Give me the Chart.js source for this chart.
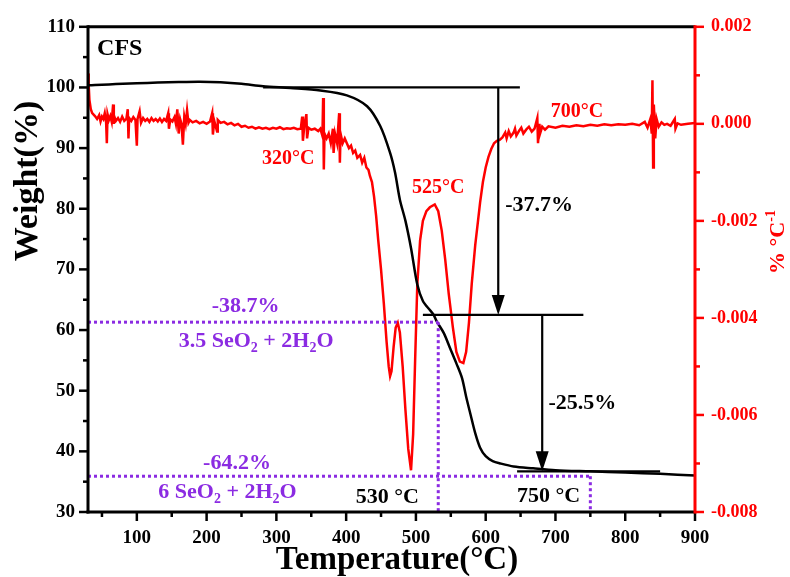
<!DOCTYPE html>
<html><head><meta charset="utf-8">
<script src="https://cdn.jsdelivr.net/npm/chart.js@4.4.1/dist/chart.umd.min.js"></script>
<style>html,body{margin:0;padding:0;background:#fff}canvas{display:block}</style>
</head><body>
<canvas id="c" width="790" height="577"></canvas>
<script>
// ---------- DATA ----------
const tgTemp = [30,40,60,80,100,130,160,190,220,250,281,320,363,401,430,449,463,470,477,485,493,502,510,520,525,530,540,549,558,566,572,578,585,592,600,610,621,640,668,700,750,800,850,900];
const tgWeight = [100.35,100.4,100.5,100.6,100.7,100.8,100.9,100.95,100.85,100.6,100.2,99.9,99.5,98.7,96.9,93.6,89.2,86.0,81.5,78.0,73.5,67.5,64.8,63.3,62.6,61.4,59.5,57.0,54.5,52.1,49.0,46.2,43.0,40.6,39.2,38.4,38.0,37.5,37.2,36.9,36.7,36.5,36.3,36.0];

const dtgTemp = [30,31,32,34,36,40,43,46,48,50,52,54,56,57,58,60,62,64,66,67,68,70,73,76,79,82,85,87,88,89,92,95,98,100,101,104,106,109,112,115,118,121,124,127,130,133,136,139,142,145,146,148,151,154,156,158,160,162,164,166,168,170,172,174,176,180,185,190,195,200,205,208,209,211,215,216,220,225,230,235,240,245,250,255,260,265,270,275,280,285,290,295,300,305,310,315,320,325,330,335,337,338,340,343,344,346,350,355,360,363,366,367,368,369,372,375,378,381,382,384,387,390,391,392,395,398,401,404,407,410,413,416,420,423,426,429,432,434,437,440,443,446,450,454,458,461,463,465,468,471,474,477,481,485,489,493,496,499,502,506,510,515,520,527,532,537,542,547,553,558,563,568,572,576,580,585,589,592,596,600,604,608,612,616,620,624,628,630,633,636,640,642,644,648,651,654,658,662,666,670,674,675,677,678,681,685,690,700,710,720,730,740,750,760,770,780,790,800,810,820,828,832,836,838,839,840,841,843,845,848,852,856,860,865,871,872,875,880,890,900];
const dtgRate = [0.00104,0.0008,0.0005,0.0003,0.00022,0.00016,0.0001,0.00018,0.00005,0.00015,0.0001,0.00022,0.00002,-0.0004,0.0002,0.00008,0.00016,0.00004,0.0004,0.0,0.00014,0.00006,0.00012,0.00004,0.00015,0.00006,0.0001,0.0003,-0.0003,0.00012,0.00006,0.00014,0.00008,-0.00045,0.0001,0.00026,0.00002,0.00012,0.00006,0.0001,0.00004,0.00012,0.00006,0.0001,0.00005,0.00011,0.00004,0.0001,0.00006,0.00022,-0.0001,0.00009,0.00005,0.00014,0.0,0.0003,-0.0002,0.0001,0.0,-0.00043,0.00015,0.0,0.00028,0.00002,0.00008,0.00003,0.00006,0.00001,0.00004,0.0,0.00005,0.00022,-0.00022,0.00006,-0.00016,0.00008,0.00002,0.00004,-0.00001,0.00002,-0.00003,0.0,-0.00006,-0.00004,-0.00008,-0.00006,-0.0001,-0.00007,-0.0001,-0.00008,-0.00011,-0.00008,-0.0001,-0.00007,-0.00011,-0.00009,-0.0001,-0.00008,-0.00011,-0.0001,0.00015,-0.00035,-0.00005,0.0002,-0.0003,-0.00008,-0.00012,-0.0001,-0.00015,-0.0001,-0.00025,0.00053,-0.00094,-0.0002,-0.0003,-0.0002,-0.0004,-0.0001,-0.0006,-0.0002,-0.0004,0.00022,-0.0008,-0.0002,-0.0004,-0.0003,-0.0004,-0.0005,-0.00045,-0.0006,-0.00055,-0.0007,-0.00064,-0.0008,-0.0007,-0.0009,-0.00095,-0.00107,-0.0012,-0.0015,-0.0019,-0.0024,-0.003,-0.0037,-0.0045,-0.005,-0.0052,-0.0051,-0.0046,-0.0042,-0.0041,-0.0043,-0.005,-0.0059,-0.0067,-0.00714,-0.0064,-0.0048,-0.0033,-0.0024,-0.002,-0.0018,-0.00172,-0.00166,-0.0018,-0.0022,-0.0028,-0.0035,-0.0042,-0.0047,-0.0049,-0.00493,-0.0047,-0.0041,-0.0033,-0.0025,-0.002,-0.00162,-0.0012,-0.0009,-0.00068,-0.00052,-0.0004,-0.00035,-0.00033,-0.00028,-0.00018,-0.0003,-0.00015,-0.00026,-0.00018,-0.0001,-0.00024,-0.00014,-0.00008,-0.0002,-0.00012,-0.00006,-0.00016,-0.0001,0.00012,-0.0004,0.0,-0.0002,-0.00006,-0.00012,-0.00005,-0.00008,-0.00004,-0.00006,-0.00003,-0.00005,-0.00002,-0.00004,-0.00001,-0.00003,-0.00001,-0.00002,0.0,-0.00003,0.00004,-0.00008,0.0001,-0.0002,0.0009,-0.0009,0.0004,-0.0003,0.0001,-0.00006,0.00003,-0.00002,0.0,-0.00004,0.0001,-0.0001,0.00001,-0.00002,0.0,0.00002];

const tempTicks = [100,200,300,400,500,600,700,800,900];
const weightTicks = [30,40,50,60,70,80,90,100,110];
const rateTicks = [-0.008,-0.006,-0.004,-0.002,0.000,0.002];

// ---------- ANNOTATIONS (data units: temperature, weight) ----------
const blackLines = [[281,100,649,100],[510,62.5,740,62.5],[645,36.7,850,36.7]];
const arrows = [[618,100,62.5],[681,62.5,36.7]];
const purpleLines = [[30,61.3,532,61.3],[532,61.3,532,30],[30,35.9,750,35.9],[750,35.9,750,30]];
const labels = [
  {parts:[['CFS',0]], x:43, y:106.4, align:'left', color:'#000', size:24},
  {parts:[['320°C',0]], x:317, y:88.3, align:'center', color:'#f00', size:20},
  {parts:[['525°C',0]], x:532, y:83.4, align:'center', color:'#f00', size:20},
  {parts:[['700°C',0]], x:731, y:96.0, align:'center', color:'#f00', size:20},
  {parts:[['-37.7%',0]], x:628, y:80.6, align:'left', color:'#000', size:22},
  {parts:[['-25.5%',0]], x:690, y:48.0, align:'left', color:'#000', size:22},
  {parts:[['-38.7%',0]], x:256, y:63.9, align:'center', color:'#8b2be2', size:22},
  {parts:[['3.5 SeO',0],['2',1],[' + 2H',0],['2',1],['O',0]], x:271, y:58.1, align:'center', color:'#8b2be2', size:22},
  {parts:[['-64.2%',0]], x:243.6, y:38.0, align:'center', color:'#8b2be2', size:22},
  {parts:[['6 SeO',0],['2',1],[' + 2H',0],['2',1],['O',0]], x:230, y:33.3, align:'center', color:'#8b2be2', size:22},
  {parts:[['530 °C',0]], x:459, y:32.45, align:'center', color:'#000', size:22},
  {parts:[['750 °C',0]], x:690, y:32.6, align:'center', color:'#000', size:22}
];

const FONT = "'Liberation Serif','Times New Roman',serif";
const RED = '#f00', PURPLE = '#8b2be2';

function richText(ctx, parts, x, y, size, color, align) {
  const fMain = 'bold ' + size + 'px ' + FONT;
  const fSub = 'bold ' + Math.round(size * 0.62) + 'px ' + FONT;
  let w = 0;
  parts.forEach(p => { ctx.font = p[1] ? fSub : fMain; w += ctx.measureText(p[0]).width; });
  let cx = align === 'center' ? x - w / 2 : (align === 'right' ? x - w : x);
  ctx.fillStyle = color; ctx.textAlign = 'left'; ctx.textBaseline = 'middle';
  parts.forEach(p => {
    ctx.font = p[1] ? fSub : fMain;
    ctx.fillText(p[0], cx, y + (p[1] ? size * 0.32 : 0));
    cx += ctx.measureText(p[0]).width;
  });
}

const framePlugin = {
  id: 'frame',
  afterDatasetsDraw(chart) {
    const ctx = chart.ctx, x = chart.scales.x, yl = chart.scales.y;
    ctx.save();
    ctx.strokeStyle = PURPLE; ctx.lineWidth = 3; ctx.setLineDash([3, 3]);
    purpleLines.forEach(l => {
      ctx.beginPath();
      ctx.moveTo(x.getPixelForValue(l[0]), yl.getPixelForValue(l[1]));
      ctx.lineTo(x.getPixelForValue(l[2]), yl.getPixelForValue(l[3]));
      ctx.stroke();
    });
    ctx.setLineDash([]);
    ctx.strokeStyle = '#000'; ctx.lineWidth = 2.2;
    blackLines.forEach(l => {
      ctx.beginPath();
      ctx.moveTo(x.getPixelForValue(l[0]), yl.getPixelForValue(l[1]));
      ctx.lineTo(x.getPixelForValue(l[2]), yl.getPixelForValue(l[3]));
      ctx.stroke();
    });
    arrows.forEach(ar => {
      const px = x.getPixelForValue(ar[0]);
      const p1 = yl.getPixelForValue(ar[1]), p2 = yl.getPixelForValue(ar[2]);
      ctx.beginPath(); ctx.moveTo(px, p1); ctx.lineTo(px, p2 - 18); ctx.stroke();
      ctx.beginPath(); ctx.moveTo(px - 6.5, p2 - 20); ctx.lineTo(px + 6.5, p2 - 20); ctx.lineTo(px, p2); ctx.closePath();
      ctx.fillStyle = '#000'; ctx.fill();
    });
    labels.forEach(t => richText(ctx, t.parts, x.getPixelForValue(t.x), yl.getPixelForValue(t.y), t.size, t.color, t.align));
    ctx.restore();
  },
  afterDraw(chart) {
    const ctx = chart.ctx, x = chart.scales.x, yl = chart.scales.y, yr = chart.scales.y2;
    const a = chart.chartArea;
    ctx.save();
    ctx.lineCap = 'butt';
    ctx.lineWidth = 2.5;
    ctx.strokeStyle = '#000';
    for (let v = 50; v <= 900; v += 50) {
      const px = x.getPixelForValue(v), len = v % 100 === 0 ? 9 : 5;
      ctx.beginPath(); ctx.moveTo(px, a.bottom); ctx.lineTo(px, a.bottom + len); ctx.stroke();
    }
    for (let v = 30; v <= 110; v += 5) {
      const py = yl.getPixelForValue(v), len = v % 10 === 0 ? 9 : 5;
      ctx.beginPath(); ctx.moveTo(a.left, py); ctx.lineTo(a.left - len, py); ctx.stroke();
    }
    ctx.strokeStyle = RED;
    for (let i = 0; i <= 10; i++) {
      const v = -0.008 + i * 0.001;
      const py = yr.getPixelForValue(v), len = i % 2 === 0 ? 9 : 5;
      ctx.beginPath(); ctx.moveTo(a.right, py); ctx.lineTo(a.right + len, py); ctx.stroke();
    }
    ctx.lineWidth = 3;
    ctx.strokeStyle = '#000';
    ctx.beginPath(); ctx.moveTo(a.left, a.top); ctx.lineTo(a.right, a.top); ctx.stroke();
    ctx.beginPath(); ctx.moveTo(a.left - 1.5, a.bottom); ctx.lineTo(a.right, a.bottom); ctx.stroke();
    ctx.beginPath(); ctx.moveTo(a.left, a.top - 1.5); ctx.lineTo(a.left, a.bottom + 1.5); ctx.stroke();
    ctx.strokeStyle = RED;
    ctx.beginPath(); ctx.moveTo(a.right, a.top - 1.5); ctx.lineTo(a.right, a.bottom + 1.5); ctx.stroke();
    // axis titles
    ctx.fillStyle = '#000'; ctx.textAlign = 'center'; ctx.textBaseline = 'middle';
    ctx.font = 'bold 33px ' + FONT;
    ctx.fillText('Temperature(°C)', 397, 560);
    ctx.save(); ctx.translate(28, 181); ctx.rotate(-Math.PI / 2);
    ctx.font = 'bold 34px ' + FONT; ctx.fillText('Weight(%)', 0, 0); ctx.restore();
    ctx.save(); ctx.translate(778, 242); ctx.rotate(-Math.PI / 2);
    ctx.fillStyle = RED;
    ctx.font = 'bold 22px ' + FONT;
    const m = ctx.measureText('% °C').width;
    ctx.font = 'bold 14px ' + FONT;
    const s = ctx.measureText('-1').width;
    const st = -(m + s) / 2;
    ctx.textAlign = 'left';
    ctx.font = 'bold 22px ' + FONT; ctx.fillText('% °C', st, 0);
    ctx.font = 'bold 14px ' + FONT; ctx.fillText('-1', st + m, -7);
    ctx.restore();
    ctx.restore();
  }
};

new Chart(document.getElementById('c'), {
  type: 'line',
  data: {
    datasets: [
      { label: 'TG', data: tgTemp.map((t, i) => ({x: t, y: tgWeight[i]})), yAxisID: 'y',
        borderColor: '#000', borderWidth: 2.5, pointRadius: 0, tension: 0.3, order: 0 },
      { label: 'DTG', data: dtgTemp.map((t, i) => ({x: t, y: dtgRate[i]})), yAxisID: 'y2',
        borderColor: RED, borderWidth: 2.5, pointRadius: 0, tension: 0, order: 1 }
    ]
  },
  options: {
    responsive: false, animation: false, devicePixelRatio: 1,
    layout: { padding: { top: 16, left: 0, right: 0, bottom: 0 } },
    plugins: { legend: { display: false }, tooltip: { enabled: false } },
    scales: {
      x: {
        type: 'linear', min: 30, max: 900,
        afterBuildTicks: s => { s.ticks = tempTicks.map(v => ({value: v})); },
        afterFit: s => { s.height = 65; },
        grid: { display: false, drawTicks: false }, border: { display: false },
        ticks: { color: '#000', padding: 15, maxRotation: 0, autoSkip: false,
          font: { family: FONT, size: 19, weight: 'bold' } }
      },
      y: {
        type: 'linear', position: 'left', min: 30, max: 110,
        afterBuildTicks: s => { s.ticks = weightTicks.map(v => ({value: v})); },
        afterFit: s => { s.width = 88; },
        grid: { display: false, drawTicks: false }, border: { display: false },
        ticks: { color: '#000', padding: 13, font: { family: FONT, size: 19, weight: 'bold' } }
      },
      y2: {
        type: 'linear', position: 'right', min: -0.008, max: 0.002,
        afterBuildTicks: s => { s.ticks = rateTicks.map(v => ({value: v})); },
        afterFit: s => { s.width = 95; },
        grid: { display: false, drawTicks: false }, border: { display: false },
        ticks: { color: RED, padding: 16, callback: v => v.toFixed(3),
          font: { family: FONT, size: 18, weight: 'bold' } }
      }
    }
  },
  plugins: [framePlugin]
});
</script>
</body></html>
